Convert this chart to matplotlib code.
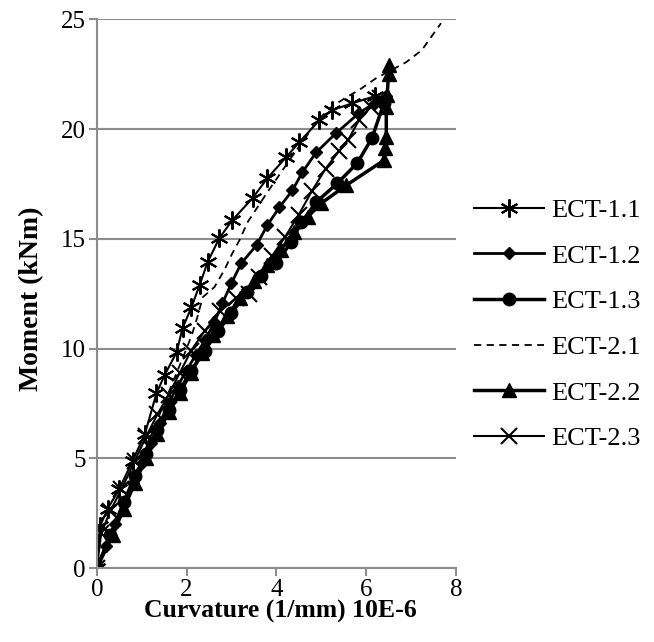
import matplotlib.pyplot as plt
import numpy as np

plt.rcParams['font.family'] = ['Liberation Serif', 'DejaVu Serif']

# ECT-1.1 (asterisk)
ect11_x = [0, 0.07, 0.24, 0.5, 0.8, 1.07, 1.33, 1.51, 1.78, 1.91, 2.11, 2.29, 2.47, 2.73, 3.02,
           3.47, 3.8, 4.22, 4.51, 4.96, 5.24, 5.69, 6.2]
ect11_y = [0, 1.9, 2.7, 3.6, 4.9, 6.1, 7.97, 8.79, 9.84, 10.93, 11.89, 12.89, 13.94, 15.03, 15.85,
           16.85, 17.76, 18.72, 19.4, 20.4, 20.86, 21.17, 21.5]

# ECT-1.2 (diamond)
ect12_x = [0, 0.2, 0.4, 0.6, 0.8, 1.0, 1.2, 1.4, 1.6, 1.8, 2.0, 2.2, 2.42, 2.62, 2.8, 3.0, 3.22,
           3.56, 3.8, 4.07, 4.36, 4.58, 4.89, 5.33, 5.84, 6.2, 6.45]
ect12_y = [0, 1.0, 2.0, 3.0, 3.9, 4.8, 5.7, 6.6, 7.5, 8.3, 9.0, 9.7, 10.4, 11.2, 12.07, 12.98, 13.89,
           14.71, 15.62, 16.44, 17.21, 18.03, 18.94, 19.81, 20.72, 21.2, 21.5]

# ECT-1.3 (circle)
ect13_x = [0, 0.3, 0.6, 0.85, 1.1, 1.35, 1.6, 1.85, 2.1, 2.4, 2.7, 3.0, 3.35, 3.65, 4.0, 4.33,
           4.56, 4.89, 5.36, 5.8, 6.13, 6.4]
ect13_y = [0, 1.5, 3.0, 4.2, 5.2, 6.3, 7.2, 8.1, 9.0, 9.9, 10.8, 11.6, 12.6, 13.3, 13.89, 14.85,
           15.76, 16.67, 17.53, 18.44, 19.58, 21.2]

# ECT-2.1 (dashed, no markers)
ect21_x = [0, 0.5, 1.0, 1.5, 2.0, 2.13, 2.24, 2.36, 2.62, 2.84, 3.02, 3.18, 3.36, 3.58, 3.8, 4.4,
           4.96, 5.22, 5.56, 5.84, 6.22, 6.89, 7.24, 7.67]
ect21_y = [0, 2.5, 5.0, 7.5, 10.0, 10.7, 11.43, 12.34, 12.8, 13.57, 14.34, 14.94, 15.76, 16.44,
           17.12, 18.9, 20.49, 20.99, 21.45, 21.77, 22.31, 23.04, 23.59, 24.82]

# ECT-2.2 (triangle)
ect22_x = [0, 0.35, 0.6, 0.85, 1.1, 1.35, 1.6, 1.85, 2.1, 2.35, 2.6, 2.9, 3.2, 3.5, 3.8, 4.1,
           4.4, 4.7, 5.0, 5.56, 6.4, 6.42, 6.45, 6.45, 6.47, 6.5, 6.51]
ect22_y = [0, 1.5, 2.7, 3.9, 5.0, 6.1, 7.1, 8.0, 8.9, 9.8, 10.6, 11.5, 12.3, 13.1, 13.8, 14.5,
           15.3, 16.0, 16.62, 17.44, 18.58, 19.13, 19.63, 20.99, 21.54, 22.5, 22.9]

# ECT-2.3 (x)
ect23_x = [0, 0.1, 0.3, 0.55, 0.85, 1.1, 1.35, 1.6, 1.85, 2.1, 2.4, 2.75, 3.1, 3.4, 3.62, 3.9,
           4.2, 4.5, 4.8, 5.1, 5.4, 5.6, 5.84, 6.1, 6.3]
ect23_y = [0, 1.6, 2.6, 3.6, 4.9, 6.0, 7.0, 7.9, 8.9, 9.9, 10.8, 11.7, 12.3, 12.5, 13.25, 14.2,
           15.1, 16.1, 17.2, 18.2, 19.0, 19.5, 20.4, 21.0, 21.4]

fig = plt.figure(figsize=(6.54, 6.42), dpi=100)
ax = fig.add_axes([0.148, 0.115, 0.549, 0.855])

ax.plot(ect11_x, ect11_y, color='black', lw=1.5, marker=(6, 2, 0), ms=13, mew=1.5, label='ECT-1.1')
ax.plot(ect12_x, ect12_y, color='black', lw=2, marker='D', ms=6, label='ECT-1.2')
ax.plot(ect13_x, ect13_y, color='black', lw=2.5, marker='o', ms=9, label='ECT-1.3')
ax.plot(ect21_x, ect21_y, color='black', lw=1.3, ls=(0, (4, 3)), label='ECT-2.1')
ax.plot(ect22_x, ect22_y, color='black', lw=2.5, marker='^', ms=10, label='ECT-2.2')
ax.plot(ect23_x, ect23_y, color='black', lw=1.5, marker='x', ms=11, mew=1.5, label='ECT-2.3')

ax.set_xlim(0, 8)
ax.set_ylim(0, 25)
ax.set_xticks([0, 2, 4, 6, 8])
ax.set_yticks([0, 5, 10, 15, 20, 25])
ax.grid(axis='y', color='#8c8c8c', lw=1.5)
ax.set_axisbelow(True)
for s in ['top', 'right']:
    ax.spines[s].set_visible(False)
for s in ['left', 'bottom']:
    ax.spines[s].set_color('#8c8c8c')
    ax.spines[s].set_linewidth(1.5)
ax.tick_params(direction='out', length=6, width=1.5, color='#8c8c8c', labelsize=18, pad=2)

ax.set_xlabel('Curvature (1/mm) 10E-6', fontsize=18.5, fontweight='bold')
ax.set_ylabel('Moment (kNm)', fontsize=20, fontweight='bold')
ax.xaxis.set_label_coords(0.51, -0.058)
ax.yaxis.set_label_coords(-0.148, 0.49)

ax.legend(loc='center left', bbox_to_anchor=(1.0, 0.444), frameon=False, fontsize=19,
          handlelength=2.65, handletextpad=0.27, labelspacing=0.84, borderaxespad=0.3)

plt.savefig('out.png')
